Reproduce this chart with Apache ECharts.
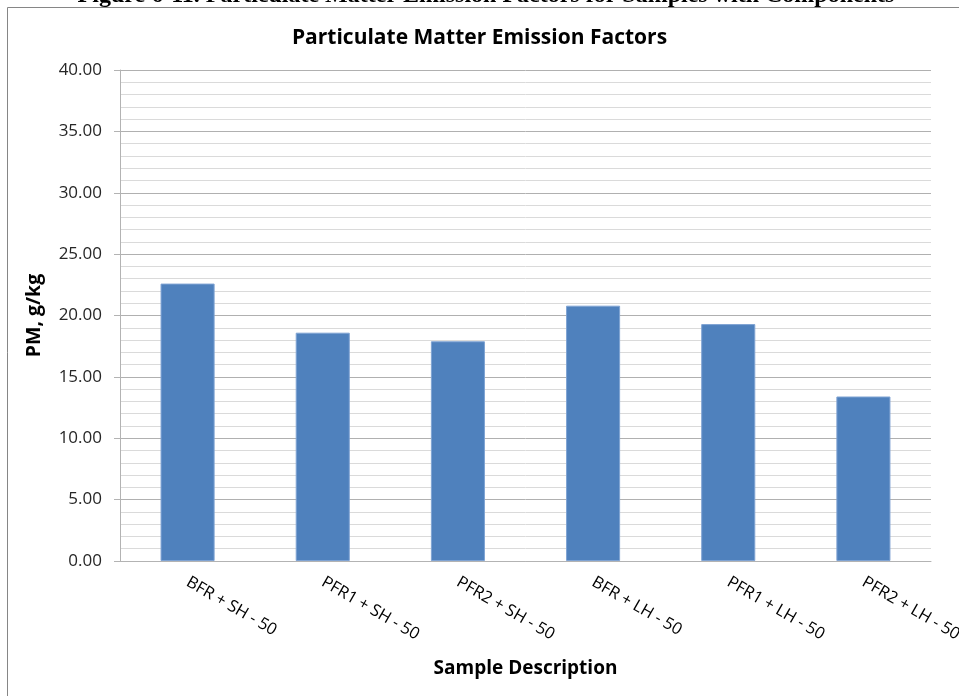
<!DOCTYPE html>
<html>
<head>
<meta charset="utf-8">
<script src="https://cdn.jsdelivr.net/npm/echarts@6/dist/echarts.min.js"></script>
<style>
  html, body { margin: 0; padding: 0; background: #fff; }
  #chart { width: 959px; height: 696px; }
</style>
</head>
<body>
<div id="chart"></div>
<script>
// values
var categories = ['BFR + SH - 50', 'PFR1 + SH - 50', 'PFR2 + SH - 50', 'BFR + LH - 50', 'PFR1 + LH - 50', 'PFR2 + LH - 50'];
var pmValues = [22.6, 18.6, 17.9, 20.8, 19.3, 13.4];
var yTicks = { min: 0, max: 40, step: 5 };

var chart = echarts.init(document.getElementById('chart'), null, { renderer: 'canvas' });

var font = '"Open Sans", "DejaVu Sans", sans-serif';

chart.setOption({
	animation: false,
	backgroundColor: '#fff',
	title: {
		text: 'Particulate Matter Emission Factors',
		left: 'center',
		top: 23,
		textStyle: { fontFamily: font, fontWeight: 'bold', fontSize: 21, color: '#000' }
	},
	graphic: [
		{
			// page caption above the chart, cut off by the top edge
			type: 'text',
			x: 486, y: 8,
			style: {
				text: 'Figure 6-11. Particulate Matter Emission Factors for Samples with Components',
				font: 'bold 24px "Liberation Serif", "DejaVu Serif", serif',
				fill: '#000',
				align: 'center',
				verticalAlign: 'bottom'
			},
			silent: true
		},
		{
			type: 'rect',
			shape: { x: 7.5, y: 7.5, width: 1000, height: 1000 },
			style: { fill: '#fff', stroke: '#868686', lineWidth: 1 },
			silent: true,
			z: -10
		}
	],
	// labels are allowed to run past the right edge, as in the original
	grid: { left: 120, right: 28, top: 70, bottom: 135, containLabel: false, outerBoundsMode: 'none' },
	xAxis: {
		type: 'category',
		data: categories,
		name: 'Sample Description',
		nameLocation: 'middle',
		nameGap: 98,
		nameTextStyle: { fontFamily: font, fontWeight: 'bold', fontSize: 19, color: '#000' },
		axisLine: { lineStyle: { color: '#b3b3b3', width: 1 } },
		axisTick: { show: false },
		axisLabel: { rotate: -30, margin: 20, fontFamily: font, fontSize: 16.5, color: '#000' }
	},
	yAxis: {
		type: 'value',
		min: yTicks.min,
		max: yTicks.max,
		interval: yTicks.step,
		name: 'PM, g/kg',
		nameLocation: 'middle',
		nameRotate: 90,
		nameGap: 76,
		nameTextStyle: { fontFamily: font, fontWeight: 'bold', fontSize: 19.5, color: '#000' },
		axisLine: { show: true, lineStyle: { color: '#b3b3b3', width: 1 } },
		axisTick: { show: true, length: 6, lineStyle: { color: '#b3b3b3' } },
		axisLabel: {
			margin: 18, fontFamily: font, fontSize: 17, color: '#262626',
			formatter: function (v) { return v.toFixed(2); }
		},
		splitLine: { show: true, lineStyle: { color: '#b0b0b0', width: 1 } },
		minorTick: { show: false, splitNumber: 5 },
		minorSplitLine: { show: true, lineStyle: { color: '#dadada', width: 1 } }
	},
	series: [{
		type: 'bar',
		data: pmValues,
		barWidth: '40%',
		itemStyle: { color: '#4f81bd', borderColor: '#7fa3d3', borderWidth: 1 }
	}]
});
</script>
</body>
</html>
